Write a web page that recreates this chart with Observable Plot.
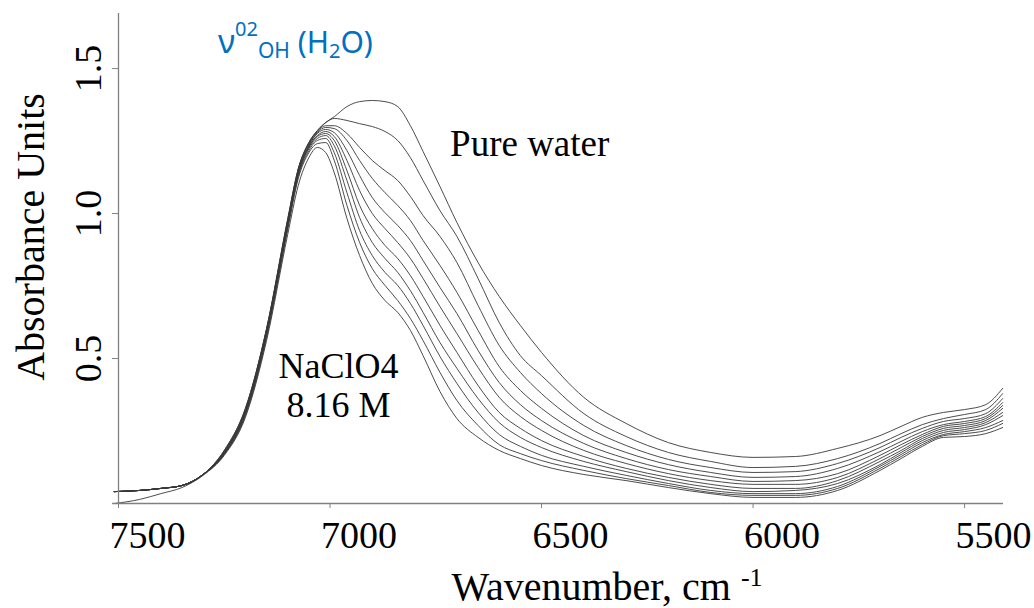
<!DOCTYPE html>
<html><head><meta charset="utf-8">
<script src="https://cdn.jsdelivr.net/npm/d3@7"></script>
<script src="https://cdn.jsdelivr.net/npm/@observablehq/plot@0.6"></script>
<style>body{margin:0;background:#fff;} #chart{width:1034px;height:608px;}</style>
</head><body><div id="chart"></div>
<script>
// Wavenumber grid (cm-1)
const wavenumbers = [7510,7450,7400,7350,7300,7250,7200,7150,7100,7075,7050,7030,7010,6990,6960,6930,6900,6870,6840,6810,6780,6740,6700,6650,6600,6550,6500,6400,6300,6200,6100,6000,5900,5800,5700,5650,5600,5550,5500,5450,5410];

// Absorbance spectra, from pure water to 8.16 M NaClO4
const pureWater = [0.041,0.045,0.052,0.062,0.100,0.183,0.328,0.603,0.983,1.155,1.245,1.286,1.314,1.334,1.369,1.386,1.390,1.386,1.369,1.303,1.214,1.093,0.969,0.831,0.714,0.614,0.521,0.366,0.276,0.210,0.176,0.159,0.162,0.190,0.234,0.266,0.297,0.314,0.324,0.341,0.397];
const sol1 = [0.041,0.045,0.052,0.062,0.100,0.183,0.328,0.603,0.979,1.155,1.245,1.286,1.314,1.328,1.321,1.310,1.300,1.283,1.252,1.193,1.114,1.010,0.921,0.776,0.624,0.510,0.441,0.310,0.231,0.176,0.145,0.124,0.128,0.155,0.207,0.241,0.272,0.293,0.307,0.324,0.379];
const sol2 = [0.041,0.045,0.052,0.062,0.100,0.179,0.324,0.600,0.976,1.152,1.241,1.283,1.303,1.303,1.276,1.228,1.183,1.148,1.114,1.059,0.993,0.921,0.831,0.683,0.545,0.452,0.379,0.269,0.200,0.152,0.124,0.107,0.110,0.138,0.193,0.228,0.259,0.283,0.293,0.310,0.362];
const sol3 = [0.041,0.045,0.052,0.062,0.100,0.179,0.321,0.597,0.972,1.148,1.238,1.279,1.297,1.293,1.252,1.183,1.121,1.072,1.028,0.976,0.907,0.821,0.728,0.597,0.472,0.390,0.328,0.234,0.176,0.134,0.107,0.090,0.093,0.121,0.179,0.214,0.248,0.272,0.283,0.300,0.348];
const sol4 = [0.041,0.045,0.052,0.062,0.100,0.176,0.317,0.593,0.969,1.145,1.234,1.276,1.290,1.279,1.217,1.131,1.055,1.003,0.959,0.907,0.838,0.745,0.655,0.528,0.417,0.341,0.286,0.207,0.155,0.117,0.093,0.076,0.079,0.103,0.166,0.203,0.238,0.266,0.276,0.293,0.338];
const sol5 = [0.041,0.045,0.052,0.062,0.100,0.176,0.317,0.590,0.966,1.141,1.231,1.269,1.283,1.266,1.183,1.079,1.000,0.948,0.900,0.845,0.776,0.679,0.586,0.469,0.366,0.300,0.252,0.183,0.138,0.103,0.079,0.066,0.066,0.090,0.155,0.193,0.231,0.259,0.269,0.286,0.328];
const sol6 = [0.041,0.045,0.052,0.062,0.100,0.172,0.314,0.586,0.962,1.138,1.228,1.266,1.276,1.252,1.148,1.028,0.948,0.890,0.845,0.786,0.714,0.614,0.521,0.407,0.314,0.259,0.217,0.162,0.121,0.090,0.066,0.052,0.052,0.079,0.145,0.183,0.224,0.252,0.262,0.279,0.314];
const sol7 = [0.041,0.045,0.052,0.062,0.100,0.172,0.310,0.583,0.959,1.134,1.224,1.259,1.269,1.234,1.114,0.986,0.900,0.845,0.797,0.734,0.659,0.555,0.466,0.362,0.279,0.228,0.193,0.145,0.110,0.079,0.055,0.041,0.045,0.069,0.134,0.176,0.217,0.245,0.255,0.272,0.303];
const sol8 = [0.041,0.045,0.052,0.062,0.100,0.169,0.307,0.579,0.952,1.128,1.217,1.252,1.259,1.210,1.072,0.941,0.855,0.797,0.752,0.690,0.614,0.507,0.414,0.314,0.238,0.197,0.166,0.128,0.097,0.069,0.045,0.034,0.034,0.059,0.128,0.169,0.210,0.238,0.248,0.262,0.286];
const sol9 = [0.041,0.045,0.052,0.062,0.100,0.169,0.303,0.572,0.945,1.121,1.210,1.241,1.245,1.183,1.028,0.900,0.810,0.752,0.700,0.638,0.562,0.452,0.355,0.269,0.203,0.172,0.148,0.114,0.086,0.062,0.038,0.028,0.028,0.052,0.121,0.162,0.203,0.234,0.241,0.252,0.276];
const naclo4_816M = [0.000,0.014,0.034,0.055,0.097,0.166,0.297,0.562,0.928,1.097,1.193,1.228,1.210,1.141,0.983,0.855,0.759,0.700,0.659,0.597,0.510,0.386,0.293,0.228,0.183,0.155,0.131,0.100,0.079,0.055,0.034,0.021,0.021,0.045,0.114,0.155,0.197,0.228,0.231,0.241,0.262];

const seriesNames = ["Pure water","sol1","sol2","sol3","sol4","sol5","sol6","sol7","sol8","sol9","NaClO4 8.16 M"];
const seriesValues = [pureWater,sol1,sol2,sol3,sol4,sol5,sol6,sol7,sol8,sol9,naclo4_816M];

const xTicks = [7500,7000,6500,6000,5500];
const yTicks = [0.5,1.0,1.5];

const rows = seriesNames.flatMap((name, k) =>
  wavenumbers.map((w, i) => ({series: name, w, a: seriesValues[k][i]})));

const serif = "Liberation Serif";
const axisColor = "#808080";

const chart = Plot.plot({
  width: 1034, height: 608,
  marginLeft: 118, marginRight: 31, marginTop: 13, marginBottom: 105,
  style: {fontFamily: serif},
  x: {domain: [7500, 5408]},
  y: {domain: [0, 1.69]},
  marks: [
    Plot.lineY(rows, {x: "w", y: "a", z: "series", stroke: "#383838", strokeWidth: 0.9, curve: "monotone-x"}),
    Plot.ruleY([0], {x1: 7514, x2: 5408, stroke: axisColor, strokeWidth: 1.3}),
    Plot.ruleX([7500], {y1: 0, y2: 1.69, stroke: axisColor, strokeWidth: 1.3}),
    Plot.axisX(xTicks, {tickSize: 5, tickFormat: () => "", label: null, stroke: axisColor}),
    Plot.axisY(yTicks, {tickSize: 6, tickFormat: () => "", label: null, stroke: axisColor}),
    Plot.text(xTicks.map(String), {x: d => +d, frameAnchor: "bottom", text: d => d, dy: 44, dx: -9,
      textAnchor: "start", lineAnchor: "bottom", fontSize: 38, fontFamily: serif, fill: "#000"}),
    Plot.text(yTicks.map(d => d.toFixed(1)), {y: d => +d, frameAnchor: "left", text: d => d, rotate: -90, dx: -18,
      textAnchor: "middle", lineAnchor: "bottom", fontSize: 38, fontFamily: serif, fill: "#000"}),
    Plot.text(["Pure water"], {x: 6528, y: 1.2, text: d => d, lineAnchor: "bottom", textAnchor: "middle",
      fontSize: 37, fontFamily: serif, fill: "#000"}),
    Plot.text(["NaClO4"], {x: 6980, y: 0.434, text: d => d, lineAnchor: "bottom", textAnchor: "middle",
      fontSize: 36, fontFamily: serif, fill: "#000"}),
    Plot.text(["8.16 M"], {x: 6980, y: 0.297, text: d => d, lineAnchor: "bottom", textAnchor: "middle",
      fontSize: 36, fontFamily: serif, fill: "#000"})
  ]
});

const svg = d3.select(chart);
// Y axis title
svg.append("text")
  .attr("transform", "translate(44,237) rotate(-90)")
  .attr("text-anchor", "middle")
  .style("font-family", serif).style("font-size", "40px").attr("fill", "#000")
  .text("Absorbance Units");
// X axis title with superscript
const xt = svg.append("text").attr("x", 607).attr("y", 600)
  .attr("text-anchor", "middle").style("font-family", serif).style("font-size", "40px").attr("fill", "#000");
xt.append("tspan").text("Wavenumber, cm ");
xt.append("tspan").attr("dy", -14).style("font-size", "26px").text("-1");
// Band title
const tt = svg.append("text").attr("x", 218).attr("y", 53).attr("text-anchor", "start")
  .style("font-family", "'Noto Sans', 'Open Sans', sans-serif").style("font-size", "30px").attr("fill", "#0070C0");
tt.append("tspan").style("font-size", "33px").text("ν");
tt.append("tspan").style("font-size", "20px").attr("dy", -17).text("02");
tt.append("tspan").style("font-size", "21px").attr("dy", 22).text("OH");
tt.append("tspan").attr("dy", -5).text(" (H");
tt.append("tspan").style("font-size", "20px").attr("dy", 5).text("2");
tt.append("tspan").attr("dy", -5).text("O)");

document.getElementById("chart").appendChild(chart);
</script>
</body></html>
